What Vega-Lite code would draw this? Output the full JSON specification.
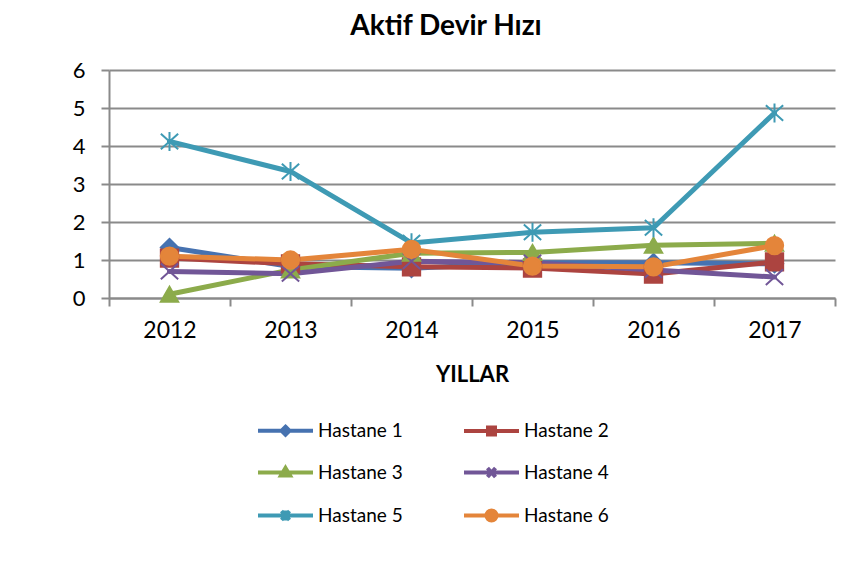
{
  "$schema": "https://vega.github.io/schema/vega-lite/v6.json",
  "width": 726,
  "height": 228,
  "autosize": {"type": "none"},
  "padding": {"left": 109, "top": 70, "right": 17, "bottom": 285},
  "background": "white",
  "config": {
    "font": "Lato",
    "view": {"stroke": null},
    "legend": {
      "orient": "none",
      "direction": "horizontal",
      "legendX": 167,
      "legendY": 351,
      "columns": 2,
      "padding": 0,
      "columnPadding": 53,
      "rowPadding": 17,
      "labelFontSize": 19,
      "labelColor": "#000000",
      "labelFont": "Lato",
      "labelOffset": 23,
      "symbolSize": 100,
      "symbolStrokeWidth": 4,
      "symbolOpacity": 1,
      "title": null
    }
  },
  "title": {
    "text": "Aktif Devir Hızı",
    "fontSize": 28,
    "fontWeight": "bold",
    "font": "Lato",
    "color": "#000000",
    "anchor": "middle",
    "dx": -26,
    "offset": 18
  },
  "data": {
    "values": [
      {"year": "2012", "series": "Hastane 1", "value": 1.33},
      {"year": "2013", "series": "Hastane 1", "value": 0.83},
      {"year": "2014", "series": "Hastane 1", "value": 0.78},
      {"year": "2015", "series": "Hastane 1", "value": 0.93},
      {"year": "2016", "series": "Hastane 1", "value": 0.93},
      {"year": "2017", "series": "Hastane 1", "value": 0.9},
      {"year": "2012", "series": "Hastane 2", "value": 1.05},
      {"year": "2013", "series": "Hastane 2", "value": 0.9},
      {"year": "2014", "series": "Hastane 2", "value": 0.82},
      {"year": "2015", "series": "Hastane 2", "value": 0.79},
      {"year": "2016", "series": "Hastane 2", "value": 0.63},
      {"year": "2017", "series": "Hastane 2", "value": 0.95},
      {"year": "2012", "series": "Hastane 3", "value": 0.1},
      {"year": "2013", "series": "Hastane 3", "value": 0.74},
      {"year": "2014", "series": "Hastane 3", "value": 1.18},
      {"year": "2015", "series": "Hastane 3", "value": 1.2},
      {"year": "2016", "series": "Hastane 3", "value": 1.39},
      {"year": "2017", "series": "Hastane 3", "value": 1.44},
      {"year": "2012", "series": "Hastane 4", "value": 0.7},
      {"year": "2013", "series": "Hastane 4", "value": 0.64},
      {"year": "2014", "series": "Hastane 4", "value": 0.97},
      {"year": "2015", "series": "Hastane 4", "value": 0.93},
      {"year": "2016", "series": "Hastane 4", "value": 0.74},
      {"year": "2017", "series": "Hastane 4", "value": 0.55},
      {"year": "2012", "series": "Hastane 5", "value": 4.12},
      {"year": "2013", "series": "Hastane 5", "value": 3.33},
      {"year": "2014", "series": "Hastane 5", "value": 1.45},
      {"year": "2015", "series": "Hastane 5", "value": 1.73},
      {"year": "2016", "series": "Hastane 5", "value": 1.85},
      {"year": "2017", "series": "Hastane 5", "value": 4.87},
      {"year": "2012", "series": "Hastane 6", "value": 1.1},
      {"year": "2013", "series": "Hastane 6", "value": 1.0},
      {"year": "2014", "series": "Hastane 6", "value": 1.28},
      {"year": "2015", "series": "Hastane 6", "value": 0.84},
      {"year": "2016", "series": "Hastane 6", "value": 0.82},
      {"year": "2017", "series": "Hastane 6", "value": 1.38}
    ]
  },
  "encoding": {
    "x": {
      "field": "year",
      "type": "ordinal",
      "scale": {"type": "band", "paddingInner": 0, "paddingOuter": 0},
      "axis": {
        "title": "YILLAR",
        "titleFontSize": 22,
        "titleFontWeight": "bold",
        "titleColor": "#000000",
        "titlePadding": 22,
        "labelAngle": 0,
        "labelFontSize": 23,
        "labelColor": "#000000",
        "labelPadding": 13,
        "tickBand": "extent",
        "tickSize": 8,
        "tickWidth": 2,
        "tickColor": "#8a8a8a",
        "domainColor": "#8a8a8a",
        "domainWidth": 2,
        "grid": false
      }
    },
    "y": {
      "field": "value",
      "type": "quantitative",
      "scale": {"domain": [0, 6], "nice": false},
      "axis": {
        "title": null,
        "values": [0, 1, 2, 3, 4, 5, 6],
        "labelFontSize": 22,
        "labelColor": "#000000",
        "labelPadding": 16,
        "tickSize": 8,
        "tickWidth": 2,
        "tickColor": "#8a8a8a",
        "domainColor": "#8a8a8a",
        "domainWidth": 2,
        "grid": true,
        "gridColor": "#8a8a8a",
        "gridWidth": 2
      }
    }
  },
  "layer": [
    {
      "mark": {"type": "line", "strokeWidth": 5, "strokeJoin": "round", "strokeCap": "round"},
      "encoding": {
        "color": {
          "field": "series",
          "type": "nominal",
          "scale": {
            "domain": ["Hastane 1", "Hastane 2", "Hastane 3", "Hastane 4", "Hastane 5", "Hastane 6"],
            "range": ["#4672b0", "#ac4440", "#8cab4b", "#715697", "#3e9ab4", "#e4853a"]
          },
          "legend": null
        },
        "order": {"field": "year"}
      }
    },
    {
      "mark": {"type": "point", "filled": true, "size": 300, "strokeWidth": 2, "opacity": 1},
      "encoding": {
        "fill": {
          "field": "series",
          "type": "nominal",
          "scale": {
            "domain": ["Hastane 1", "Hastane 2", "Hastane 3", "Hastane 4", "Hastane 5", "Hastane 6"],
            "range": ["#4672b0", "#ac4440", "#8cab4b", "#715697", "#3e9ab4", "#e4853a"]
          },
          "legend": null
        },
        "stroke": {
          "field": "series",
          "type": "nominal",
          "scale": {
            "domain": ["Hastane 1", "Hastane 2", "Hastane 3", "Hastane 4", "Hastane 5", "Hastane 6"],
            "range": ["#4672b0", "#ac4440", "#8cab4b", "#715697", "#3e9ab4", "#e4853a"]
          },
          "legend": null
        },
        "shape": {
          "field": "series",
          "type": "nominal",
          "scale": {
            "domain": ["Hastane 1", "Hastane 2", "Hastane 3", "Hastane 4", "Hastane 5", "Hastane 6"],
            "range": ["diamond", "square", "triangle-up", "M-1,-0.9L1,0.9M1,-0.9L-1,0.9", "M-1,-0.9L1,0.9M1,-0.9L-1,0.9M0,-1.1L0,1.1", "circle"]
          },
          "legend": null
        }
      }
    },
    {
      "transform": [{"filter": {"field": "value", "lt": -100}}],
      "mark": {"type": "point", "filled": true, "opacity": 1},
      "encoding": {
        "fill": {
          "field": "series",
          "type": "nominal",
          "scale": {
            "domain": ["Hastane 1", "Hastane 2", "Hastane 3", "Hastane 4", "Hastane 5", "Hastane 6"],
            "range": ["#4672b0", "#ac4440", "#8cab4b", "#715697", "#3e9ab4", "#e4853a"]
          }
        },
        "stroke": {
          "field": "series",
          "type": "nominal",
          "scale": {
            "domain": ["Hastane 1", "Hastane 2", "Hastane 3", "Hastane 4", "Hastane 5", "Hastane 6"],
            "range": ["#4672b0", "#ac4440", "#8cab4b", "#715697", "#3e9ab4", "#e4853a"]
          }
        },
        "shape": {
          "field": "series",
          "type": "nominal",
          "scale": {
            "domain": ["Hastane 1", "Hastane 2", "Hastane 3", "Hastane 4", "Hastane 5", "Hastane 6"],
            "range": [
              "M-5.5,0L5.5,0M0,-0.8L0.8,0L0,0.8L-0.8,0Z",
              "M-5.5,0L5.5,0M-0.7,-0.7L0.7,-0.7L0.7,0.7L-0.7,0.7Z",
              "M-5.5,0L5.5,0M0,-0.9L0.9,0.6L-0.9,0.6Z",
              "M-5.5,0L5.5,0M-0.8,-0.9L0.8,0.9M0.8,-0.9L-0.8,0.9",
              "M-5.5,0L5.5,0M-0.8,-0.9L0.8,0.9M0.8,-0.9L-0.8,0.9M0,-1L0,1",
              "M-5.5,0L5.5,0M-1,0A1,1,0,1,0,1,0A1,1,0,1,0,-1,0Z"
            ]
          }
        }
      }
    }
  ],
  "resolve": {
    "scale": {"color": "independent", "fill": "independent", "stroke": "independent", "shape": "independent"},
    "legend": {"color": "independent", "fill": "independent", "stroke": "independent", "shape": "independent"}
  }
}
